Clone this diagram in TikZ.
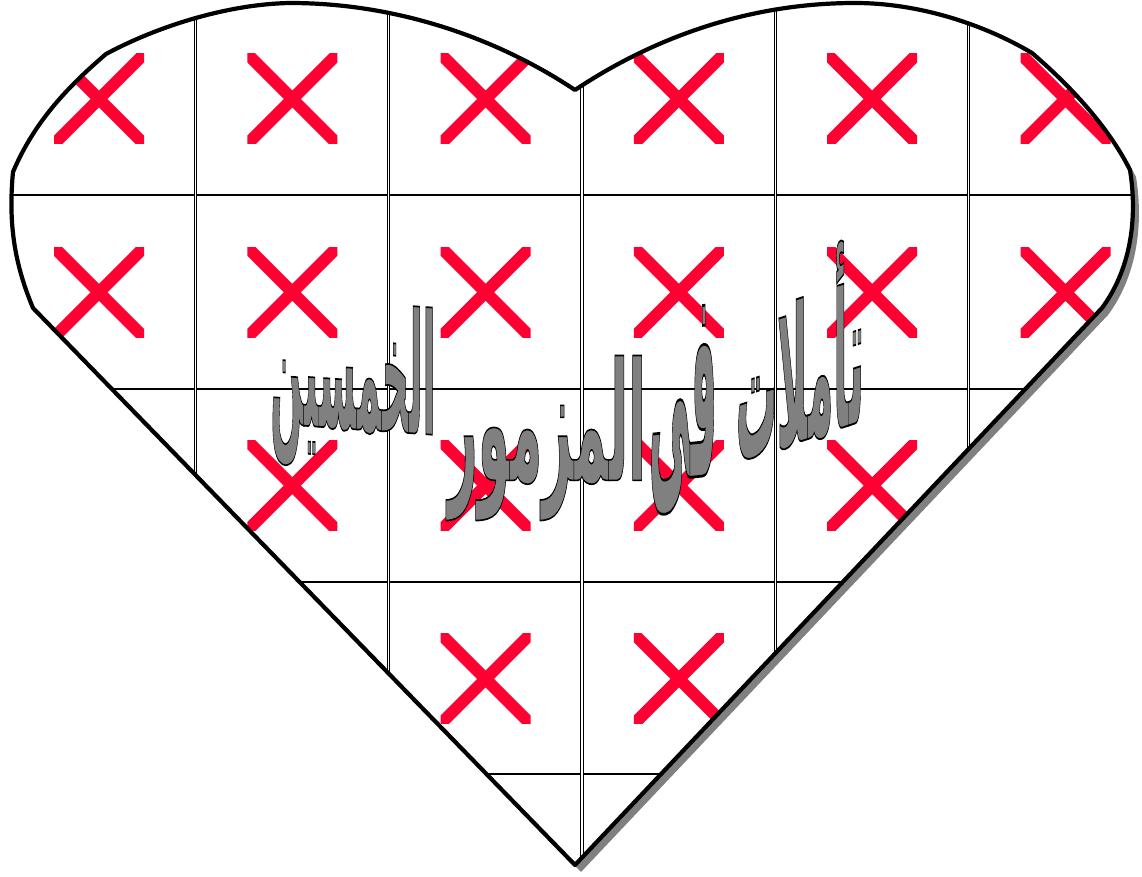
\documentclass[tikz,border=0pt]{standalone}
\usepackage{fontspec}
\usepackage{graphicx}
\TeXXeTstate=1
\newfontfamily\arabicfont[Script=Arabic,UprightFont={* Bold},FakeBold=1]{DejaVu Sans}
\definecolor{xred}{RGB}{255,0,51}
\newcommand\heartpath{(575,865) -- (33,308) .. controls (15,265) and (8,225) .. (13,172) .. controls (35,120) and (70,85) .. (106,54) .. controls (160,25) and (230,4) .. (290,3) .. controls (400,3) and (500,40) .. (575,90) .. controls (650,40) and (745,3) .. (855,3) .. controls (920,3) and (985,25) .. (1032,53) .. controls (1075,90) and (1110,130) .. (1130,170) .. controls (1138,220) and (1130,270) .. (1102,308) -- cycle}
\newcommand\arword[3]{\resizebox*{#1}{#2}{\arabicfont\fontsize{120}{120}\selectfont\special{pdf:literal direct 0 G}\beginR #3\endR}}
\begin{document}
\begin{tikzpicture}[x=1pt,y=-1pt,
  heartline/.style={line width=4.2pt,line join=round},
  gridh/.style={line width=2pt},
  gridv/.style={line width=1.1pt,double=white,double distance=1.1pt},
  xmark/.style={draw=xred,line width=12pt},
  word/.style={inner sep=0pt,text=gray}]
\useasboundingbox (0,0) rectangle (1142,877);
% shadow and body
\fill[gray,shift={(6,7)}] \heartpath;
\fill[white] \heartpath;
\begin{scope}
  \clip \heartpath;
  \foreach \i in {0,...,5} {
    \foreach \j in {0,...,3} {
      \pgfmathsetmacro\cx{99+193.3*\i}
      \pgfmathsetmacro\cy{99+193.3*\j}
      \begin{scope}
        \clip (\cx-45,\cy-45) rectangle (\cx+45,\cy+45);
        \draw[xmark] (\cx-52,\cy-52) -- (\cx+52,\cy+52)
                     (\cx-52,\cy+52) -- (\cx+52,\cy-52);
      \end{scope}
    }
  }
  \foreach \y in {195.5,388.8,582,774} {
    \draw[gridh] (0,\y) -- (1142,\y);
  }
  \foreach \x in {195.5,388.8,582,775.3,968.6} {
    \draw[gridv] (\x,0) -- (\x,877);
  }
\end{scope}
\draw[heartline] \heartpath;
% title
\node[word,yslant=0.33] (w1) at (800,350) {\arword{128pt}{192pt}{تأملات}};
\node[word,yslant=0.1] (w2) at (683,410) {\arword{68pt}{205pt}{فى}};
\node[word] (w3) at (547,438) {\arword{198pt}{165pt}{المزمور}};
\node[word,yslant=-0.07] (w4) at (353,386) {\arword{165pt}{168pt}{الخمسين}};
\end{tikzpicture}
\end{document}
